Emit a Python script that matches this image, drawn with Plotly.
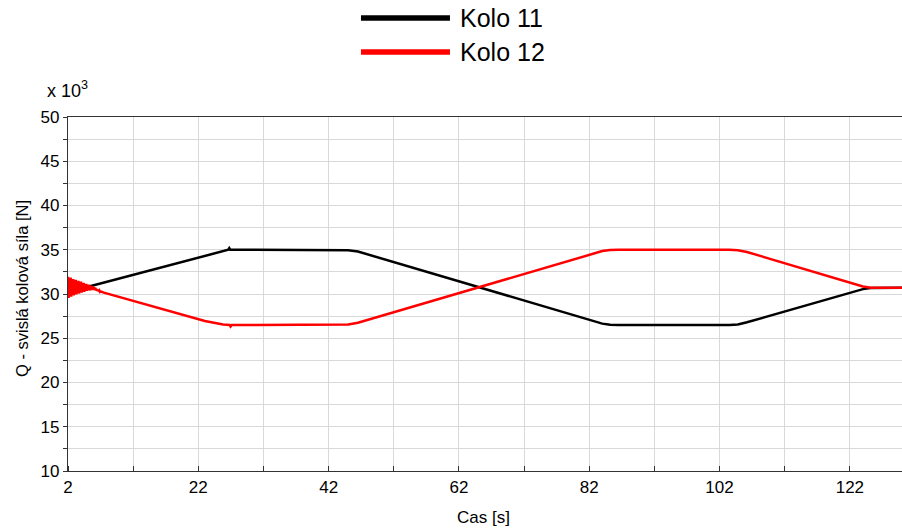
import plotly.graph_objects as go

# Time axis [s] and vertical wheel force [x 10^3 N] for wheel 11
kolo11_t = [4.5, 24.0, 25.5, 26.6, 26.75, 26.9, 28.5, 44.0, 45.0, 46.5,
            84.0, 85.2, 86.5, 103.5, 104.8, 106.2, 124.0, 125.2, 126.5, 130.0]
kolo11_q = [30.7, 34.5, 34.85, 35.0, 35.18, 35.0, 35.0, 35.0, 34.95, 34.8,
            26.65, 26.52, 26.5, 26.5, 26.55, 26.8, 30.55, 30.68, 30.7, 30.7]

# Wheel 12: initial transient oscillation followed by the mirrored load course
kolo12_t = [2.0, 2.1, 2.2, 2.3, 2.4, 2.5, 2.6, 2.7, 2.8, 2.9,
            3.0, 3.1, 3.2, 3.3, 3.4, 3.5, 3.6, 3.7, 3.8, 3.9,
            4.0, 4.1, 4.2, 4.3, 4.4, 4.5, 4.6, 4.7, 4.8, 4.9,
            5.0, 5.1, 5.2, 5.3, 5.4, 5.5, 5.6, 5.7, 5.8, 5.9,
            6.0, 6.1, 6.2, 6.3, 6.4, 6.5, 6.6, 6.7, 6.8, 6.9,
            7.0, 7.2, 7.5, 23.0, 24.5, 25.8, 26.8, 26.95, 27.1, 28.5,
            44.0, 45.0, 46.5, 84.0, 85.2, 86.5, 103.5, 104.8, 106.2, 124.0,
            125.2, 126.5, 130.0]
kolo12_q = [31.95, 29.55, 31.7, 29.8, 31.85, 29.7, 31.6, 29.9, 31.7, 29.85,
            31.5, 30.05, 31.6, 29.95, 31.4, 30.1, 31.5, 30.05, 31.3, 30.2,
            31.4, 30.15, 31.2, 30.3, 31.25, 30.25, 31.1, 30.4, 31.15, 30.35,
            31.0, 30.45, 31.05, 30.4, 30.95, 30.5, 30.9, 30.45, 30.85, 30.5,
            30.75, 30.45, 30.7, 30.4, 30.55, 30.35, 30.5, 30.3, 30.4, 30.25,
            30.3, 30.22, 30.15, 26.95, 26.7, 26.55, 26.5, 26.33, 26.5, 26.5,
            26.5, 26.55, 26.75, 34.85, 34.98, 35.0, 35.0, 34.95, 34.75, 30.85,
            30.72, 30.7, 30.7]

series_names = ["Kolo 11", "Kolo 12"]
series_colors = ["#000000", "#ff0000"]

x_ticks = [2, 22, 42, 62, 82, 102, 122]
y_ticks = [10, 15, 20, 25, 30, 35, 40, 45, 50]

FONT = "Liberation Sans, Arial, sans-serif"
GRID = "#d9d9d9"
AXIS = "#333333"

fig = go.Figure()
fig.add_trace(go.Scatter(x=kolo11_t, y=kolo11_q, mode="lines", name=series_names[0],
                         line=dict(color=series_colors[0], width=2.5), showlegend=False))
fig.add_trace(go.Scatter(x=kolo12_t, y=kolo12_q, mode="lines", name=series_names[1],
                         line=dict(color=series_colors[1], width=2.5), showlegend=False))

# Legend drawn as long line samples above the plot
legend_rows = [1.2797, 1.1836]
for name, color, yy in zip(series_names, series_colors, legend_rows):
    fig.add_shape(type="line", xref="paper", yref="paper",
                  x0=0.3513, x1=0.4580, y0=yy, y1=yy,
                  line=dict(color=color, width=5.5))
    fig.add_annotation(text=name, xref="paper", yref="paper", x=0.4676, y=yy,
                       xanchor="left", yanchor="middle", showarrow=False,
                       font=dict(family=FONT, size=25, color="#000000"))

# Exponent marker of the force axis
fig.add_annotation(text="x 10<sup>3</sup>", xref="paper", yref="paper",
                   x=-0.027, y=1.078, xanchor="left", yanchor="middle",
                   showarrow=False, font=dict(family=FONT, size=18, color="#000000"))

# Axis titles
fig.add_annotation(text="Q - svislá kolová síla [N]", xref="paper", yref="paper",
                   x=-0.056, y=0.515, xanchor="center", yanchor="middle",
                   textangle=-90, showarrow=False,
                   font=dict(family=FONT, size=16.5, color="#000000"))
fig.add_annotation(text="Cas [s]", xref="paper", yref="paper",
                   x=0.498, y=-0.13, xanchor="center", yanchor="middle",
                   showarrow=False, font=dict(family=FONT, size=17, color="#000000"))

fig.update_xaxes(
    range=[2, 130], tickmode="array", tickvals=x_ticks,
    ticktext=[str(v) for v in x_ticks],
    showgrid=True, gridcolor=GRID, gridwidth=1,
    showline=True, linecolor=AXIS, linewidth=1.2, mirror=True,
    ticks="", zeroline=False,
    tickfont=dict(family=FONT, size=17, color="#000000"),
    minor=dict(dtick=10, tick0=2, showgrid=True, gridcolor=GRID, gridwidth=1,
               ticks="inside", ticklen=5, tickcolor=AXIS),
)
fig.update_yaxes(
    range=[10, 50], tickmode="array", tickvals=y_ticks,
    ticktext=[str(v) for v in y_ticks],
    showgrid=True, gridcolor=GRID, gridwidth=1,
    showline=True, linecolor=AXIS, linewidth=1.2, mirror=False,
    ticks="outside", ticklen=4, tickcolor=AXIS, zeroline=False,
    tickfont=dict(family=FONT, size=17, color="#000000"),
    minor=dict(dtick=2.5, tick0=10, showgrid=True, gridcolor=GRID, gridwidth=1,
               ticks="outside", ticklen=4, tickcolor=AXIS),
)

fig.update_layout(
    width=902, height=532,
    margin=dict(l=68, r=0, t=117, b=61, pad=0),
    paper_bgcolor="#ffffff", plot_bgcolor="#ffffff",
    showlegend=False,
    font=dict(family=FONT, color="#000000"),
)

fig.write_html("out.html")
